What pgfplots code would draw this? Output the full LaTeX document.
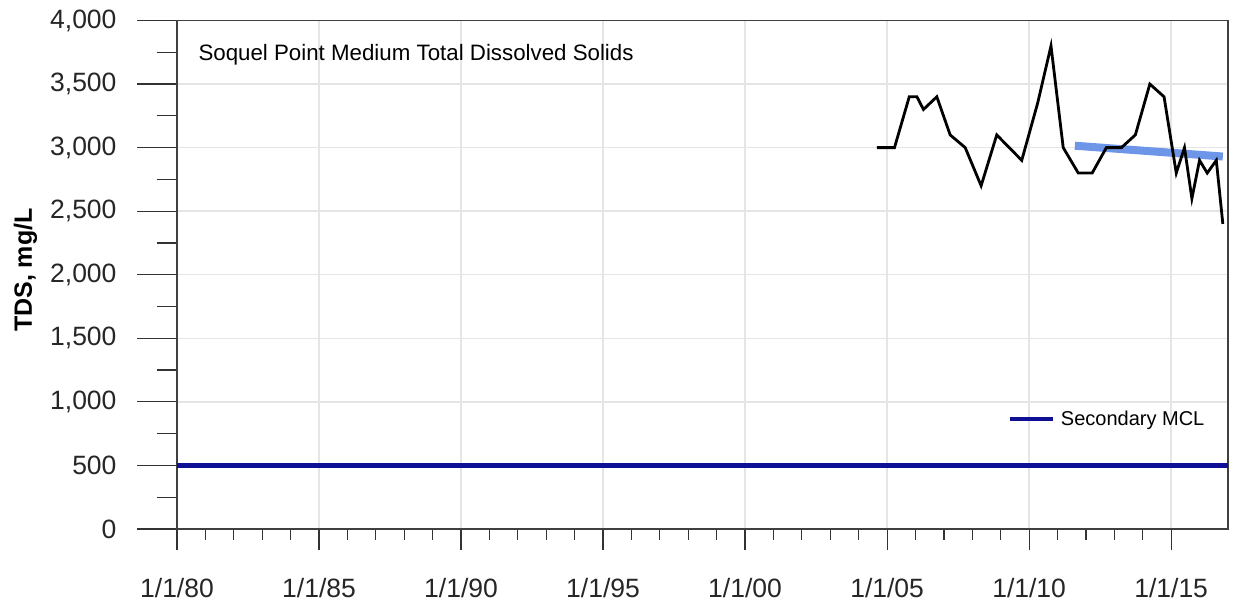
\documentclass[border=0pt]{standalone}
\usepackage{pgfplots}
\pgfplotsset{compat=1.18}
\usepackage{fontspec}
\setmainfont{Liberation Sans}

\definecolor{mclblue}{RGB}{16,16,150}
\definecolor{trendblue}{RGB}{110,150,232}

\begin{document}
\begin{tikzpicture}
\useasboundingbox (-177pt,-75pt) rectangle (1059pt,529pt);
\begin{axis}[
    scale only axis,
    width=1051pt, height=508.5pt,
    xmin=1980, xmax=2017,
    ymin=0, ymax=4000,
    xtick={1980,1985,1990,1995,2000,2005,2010,2015},
    xticklabels={1/1/80,1/1/85,1/1/90,1/1/95,1/1/00,1/1/05,1/1/10,1/1/15},
    ytick={0,500,...,4000},
    minor x tick num=4,
    minor y tick num=1,
    scaled y ticks=false,
    /pgf/number format/assume math mode=true,
    /pgf/number format/1000 sep={,},
    tick align=outside,
    xtick pos=bottom, ytick pos=left,
    major tick length=40pt, minor tick length=20pt,
    xtick style={/pgfplots/major tick length=21pt, /pgfplots/minor tick length=11pt},
    tick style={black!80, line width=1.2pt},
    axis line style={black!75, line width=1.3pt},
    grid=major,
    major grid style={gray!20, line width=1.5pt},
    ticklabel style={font=\fontsize{26.5}{26.5}\selectfont, text=black!85},
    yticklabel style={xshift=-17pt},
    xticklabel style={yshift=-6pt},
    ylabel={\textbf{TDS, mg/L}},
    ylabel style={at={(axis description cs:-0.138,0.509)}, anchor=base,
                  font=\fontsize{25}{25}\selectfont},
    legend style={draw=none, fill=none, at={(axis description cs:0.79,0.2163)},
                  anchor=west, inner sep=0pt, column sep=4pt,
                  font=\fontsize{20}{20}\selectfont},
    legend image code/.code={\draw[#1] (0pt,0pt) -- (43pt,0pt);},
]
% secondary MCL
\addplot[mclblue, line width=4.5pt] coordinates {(1980,500) (2017,500)};
\addlegendentry{Secondary MCL}
% trend
\addplot[trendblue, line width=8pt, forget plot] coordinates {(2011.61,3015) (2016.82,2930)};
% TDS samples
\addplot[black, line width=2.8pt, forget plot] coordinates {
(2004.64,3000) (2005.26,3000) (2005.78,3400) (2006.05,3400) (2006.28,3300)
(2006.75,3400) (2007.22,3100) (2007.75,3000) (2008.31,2700) (2008.86,3100)
(2009.74,2900) (2010.30,3350) (2010.77,3800) (2011.20,3000) (2011.73,2800)
(2012.22,2800) (2012.72,3000) (2013.25,3000) (2013.74,3100) (2014.25,3500)
(2014.75,3400) (2015.18,2800) (2015.47,3000) (2015.73,2600) (2016.00,2900)
(2016.27,2800) (2016.59,2900) (2016.82,2400)
};
\node[anchor=base west, font=\fontsize{22.3}{22.3}\selectfont]
    at (axis description cs:0.0171,0.9223) {Soquel Point Medium Total Dissolved Solids};
\end{axis}
\end{tikzpicture}
\end{document}
